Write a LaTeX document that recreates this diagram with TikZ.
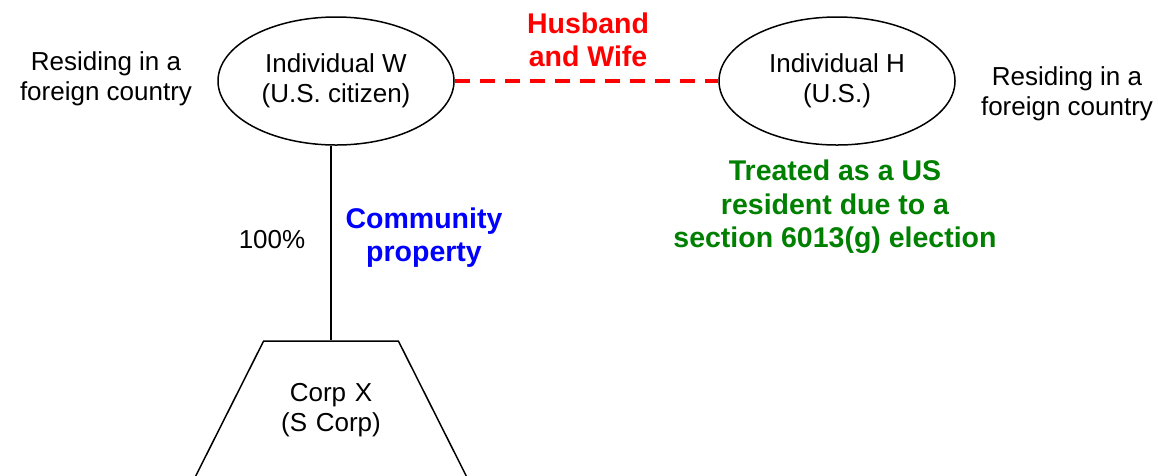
\documentclass[tikz,border=0pt]{standalone}
\usepackage{fontspec}
\setmainfont{Liberation Sans}
\usepackage{xcolor}
\usetikzlibrary{shapes,arrows}

\definecolor{taxgreen}{RGB}{0,128,0}

\begin{document}
\begin{tikzpicture}[x=1pt,y=-1pt,
  plain/.style={align=center,font=\fontsize{26}{30}\selectfont},
  note/.style={align=center,font=\fontsize{28.5}{33}\selectfont\bfseries},
  person/.style={draw,ellipse,line width=1.5pt,inner sep=0pt,minimum width=236pt,minimum height=128pt,plain}]
\useasboundingbox (0,0) rectangle (1158,475);
\node[person] (W) at (336,81) {Individual W\\(U.S. citizen)};
\node[person] (H) at (837,81) {Individual H\\(U.S.)};
\node[draw,trapezium,trapezium left angle=63.3,trapezium right angle=63.3,
  line width=1.5pt,text width=100pt,inner xsep=17.5pt,inner ysep=42pt,plain] (X) at (331,410) {Corp X\\(S Corp)};
\node[plain] (resW) at (106,79) {Residing in a\\foreign country};
\node[plain] (resH) at (1067,94) {Residing in a\\foreign country};
\node[note,text=red] (hw) at (588,40) {Husband\\and Wife};
\node[plain] (pct) at (272,240) {100\%};
\node[note,text=blue] (cp) at (424,238) {Community\\property};
\node[note,text=taxgreen,font=\fontsize{28.5}{33.5}\selectfont\bfseries] (elec) at (835,207) {Treated as a US\\resident due to a\\section 6013(g) election};
\draw[line width=1.5pt] (X.north) -- (W.south -| X.north);
\draw[red,line width=3.5pt,dash pattern=on 15pt off 10pt] (W.east) -- (H.west);
\end{tikzpicture}
\end{document}
